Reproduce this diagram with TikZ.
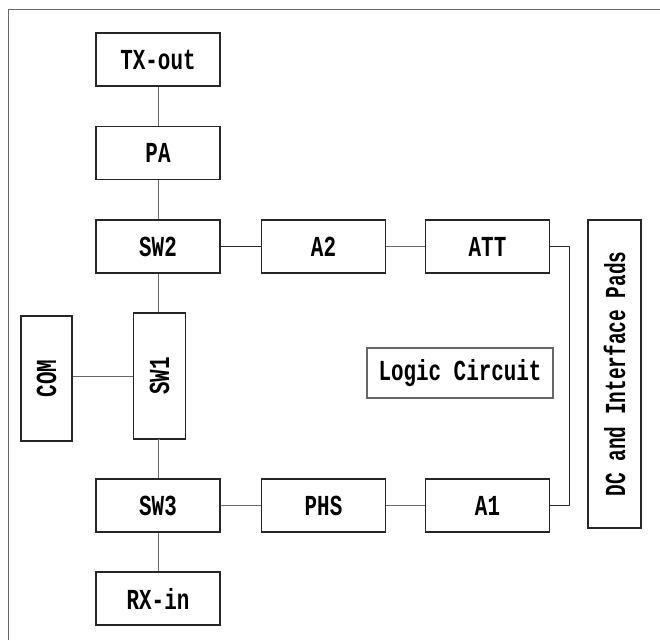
\documentclass[tikz,border=0pt]{standalone}
\usepackage{fontspec}
\usepackage{graphicx}
\newfontfamily\diagfont[FakeStretch=0.72]{Liberation Mono}
\begin{document}
\begin{tikzpicture}[x=1pt,y=-1pt,
  blk/.style={draw=black!85,line width=1.2pt,minimum width=124pt,minimum height=53pt,inner sep=0pt,font=\diagfont\bfseries\fontsize{29}{29}\selectfont},
  vblk/.style={blk,minimum width=52pt,minimum height=126pt},
  wire/.style={draw=black!60,line width=0.9pt}]
\useasboundingbox (0,0) rectangle (660,640);
\draw[draw=black!60,line width=1pt] (8,640) -- (8,9) -- (660,9);
\node[blk] (tx) at (158,59.5) {TX-out};
\node[blk] (pa) at (158,153) {PA};
\node[blk] (sw2) at (158,246.5) {SW2};
\node[blk] (a2) at (323.5,246.5) {A2};
\node[blk] (att) at (487.5,246.5) {ATT};
\node[vblk,minimum width=51pt,minimum height=125pt] (com) at (46.5,378.5) {\rotatebox{90}{COM}};
\node[vblk] (sw1) at (159.5,376) {\rotatebox{90}{SW1}};
\node[blk] (sw3) at (158,505.5) {SW3};
\node[blk] (rx) at (158,598.5) {RX-in};
\node[blk] (phs) at (323.5,505.5) {PHS};
\node[blk] (a1) at (487.5,505.5) {A1};
\node[blk,draw=black!60,minimum width=186pt,minimum height=50pt] (logic) at (460,373) {Logic Circuit};
\node[blk,minimum width=53pt,minimum height=308pt] (dc) at (614.5,374) {\rotatebox{90}{\scalebox{0.93}[1]{DC and Interface Pads}}};
\draw[wire] (tx) -- (pa);
\draw[wire] (pa) -- (sw2);
\draw[wire,draw=black!85] (sw2) -- (a2);
\draw[wire] (a2) -- (att);
\draw[wire] (sw2.south) -- (sw2.south |- sw1.north);
\draw[wire] (sw1.west) -- (sw1.west -| com.east);
\draw[wire] (sw1.south) -- (sw1.south -| sw3.north) -- (sw3.north);
\draw[wire] (sw3) -- (rx);
\draw[wire] (sw3) -- (phs);
\draw[wire] (phs) -- (a1);
\draw[wire,draw=black!85] (att.east) -- ++(19,0) |- (a1.east);
\end{tikzpicture}
\end{document}
